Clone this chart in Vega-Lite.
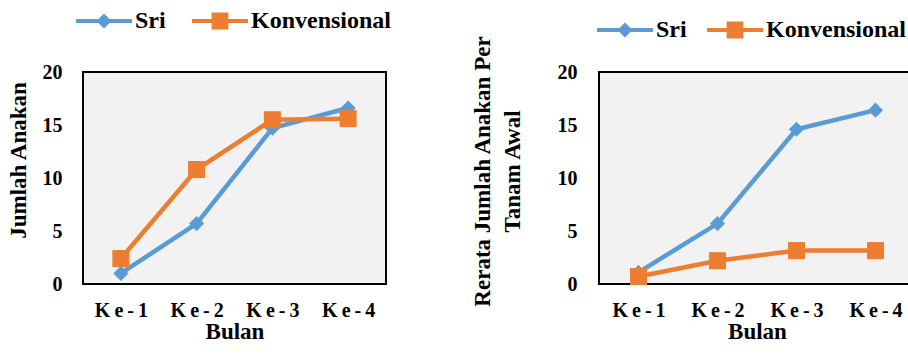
{
  "$schema": "https://vega.github.io/schema/vega-lite/v6.json",
  "padding": {"left": 6, "top": -8, "right": 0, "bottom": 0},
  "background": "white",
  "datasets": {
    "kiri": [
      {"bulan": "Ke-1", "seri": "Sri", "nilai": 1.0},
      {"bulan": "Ke-2", "seri": "Sri", "nilai": 5.7},
      {"bulan": "Ke-3", "seri": "Sri", "nilai": 14.7},
      {"bulan": "Ke-4", "seri": "Sri", "nilai": 16.6},
      {"bulan": "Ke-1", "seri": "Konvensional", "nilai": 2.4},
      {"bulan": "Ke-2", "seri": "Konvensional", "nilai": 10.8},
      {"bulan": "Ke-3", "seri": "Konvensional", "nilai": 15.5},
      {"bulan": "Ke-4", "seri": "Konvensional", "nilai": 15.6}
    ],
    "kanan": [
      {"bulan": "Ke-1", "seri": "Sri", "nilai": 1.1},
      {"bulan": "Ke-2", "seri": "Sri", "nilai": 5.7},
      {"bulan": "Ke-3", "seri": "Sri", "nilai": 14.6},
      {"bulan": "Ke-4", "seri": "Sri", "nilai": 16.4},
      {"bulan": "Ke-1", "seri": "Konvensional", "nilai": 0.7},
      {"bulan": "Ke-2", "seri": "Konvensional", "nilai": 2.2},
      {"bulan": "Ke-3", "seri": "Konvensional", "nilai": 3.15},
      {"bulan": "Ke-4", "seri": "Konvensional", "nilai": 3.15}
    ]
  },
  "spacing": 77,
  "resolve": {"scale": {"color": "independent", "x": "independent", "y": "independent"}, "legend": {"color": "independent"}},
  "hconcat": [
    {
      "width": 303,
      "height": 212,
      "data": {"name": "kiri"},
      "encoding": {
        "x": {"field": "bulan", "type": "ordinal", "sort": null, "scale": {"type": "point", "padding": 0.5},
          "axis": {"labelAngle": 0, "labelPadding": 16, "titlePadding": 0, "labelExpr": "join(split(datum.label, ''), '\u2009')"}, "title": "Bulan"},
        "y": {"field": "nilai", "type": "quantitative", "scale": {"domain": [0, 20], "nice": false},
          "axis": {"values": [0, 5, 10, 15, 20], "labelPadding": 21, "titlePadding": 12, "titleY": 88}, "title": "Jumlah Anakan"},
        "color": {"field": "seri", "type": "nominal", "sort": ["Sri", "Konvensional"],
          "scale": {"domain": ["Sri", "Konvensional"], "range": ["#5B9BD5", "#ED7D31"]},
          "legend": {"orient": "none", "legendX": -7, "legendY": -79, "direction": "horizontal", "title": null,
            "symbolSize": 3136, "symbolType": "M-1,-0.07L1,-0.07L1,0.07L-1,0.07Z",
            "labelFont": "Liberation Serif", "labelFontSize": 24, "labelFontWeight": "bold", "labelColor": "black",
            "labelOffset": 3, "columnPadding": 26, "padding": 0,
            "encode": {"symbols": {"update": {
              "shape": {"signal": "datum.value === 'Sri' ? 'M-1,-0.07L1,-0.07L1,0.07L-1,0.07Z M0,-0.27L0.27,0L0,0.27L-0.27,0Z' : 'M-1,-0.07L1,-0.07L1,0.07L-1,0.07Z M-0.3,-0.3L0.3,-0.3L0.3,0.3L-0.3,0.3Z'"},
              "fill": {"signal": "datum.value === 'Sri' ? '#5B9BD5' : '#ED7D31'"},
              "stroke": {"value": "transparent"}, "strokeWidth": {"value": 0}, "opacity": {"value": 1}, "fillOpacity": {"value": 1}}}}}
        }
      },
      "layer": [
        {"mark": {"type": "line", "strokeWidth": 4.5}},
        {"transform": [{"filter": "datum.seri === 'Sri'"}], "mark": {"type": "point", "filled": true, "opacity": 1, "shape": "diamond", "size": 230}},
        {"transform": [{"filter": "datum.seri === 'Konvensional'"}], "mark": {"type": "point", "filled": true, "opacity": 1, "shape": "square", "size": 290}}
      ]
    },
    {
      "width": 316,
      "height": 212,
      "data": {"name": "kanan"},
      "encoding": {
        "x": {"field": "bulan", "type": "ordinal", "sort": null, "scale": {"type": "point", "padding": 0.5},
          "axis": {"labelAngle": 0, "labelPadding": 16, "titlePadding": 0, "labelExpr": "join(split(datum.label, ''), '\u2009')"}, "title": "Bulan"},
        "y": {"field": "nilai", "type": "quantitative", "scale": {"domain": [0, 20], "nice": false},
          "axis": {"values": [0, 5, 10, 15, 20], "labelPadding": 22, "titlePadding": 33, "titleLineHeight": 30, "titleY": 99}, "title": ["Rerata Jumlah Anakan Per", "Tanam Awal"]},
        "color": {"field": "seri", "type": "nominal", "sort": ["Sri", "Konvensional"],
          "scale": {"domain": ["Sri", "Konvensional"], "range": ["#5B9BD5", "#ED7D31"]},
          "legend": {"orient": "none", "legendX": -2, "legendY": -70, "direction": "horizontal", "title": null,
            "symbolSize": 3136, "symbolType": "M-1,-0.07L1,-0.07L1,0.07L-1,0.07Z",
            "labelFont": "Liberation Serif", "labelFontSize": 24, "labelFontWeight": "bold", "labelColor": "black",
            "labelOffset": 3, "columnPadding": 20, "padding": 0,
            "encode": {"symbols": {"update": {
              "shape": {"signal": "datum.value === 'Sri' ? 'M-1,-0.07L1,-0.07L1,0.07L-1,0.07Z M0,-0.27L0.27,0L0,0.27L-0.27,0Z' : 'M-1,-0.07L1,-0.07L1,0.07L-1,0.07Z M-0.3,-0.3L0.3,-0.3L0.3,0.3L-0.3,0.3Z'"},
              "fill": {"signal": "datum.value === 'Sri' ? '#5B9BD5' : '#ED7D31'"},
              "stroke": {"value": "transparent"}, "strokeWidth": {"value": 0}, "opacity": {"value": 1}, "fillOpacity": {"value": 1}}}}}
        }
      },
      "layer": [
        {"mark": {"type": "line", "strokeWidth": 4.5}},
        {"transform": [{"filter": "datum.seri === 'Sri'"}], "mark": {"type": "point", "filled": true, "opacity": 1, "shape": "diamond", "size": 230}},
        {"transform": [{"filter": "datum.seri === 'Konvensional'"}], "mark": {"type": "point", "filled": true, "opacity": 1, "shape": "square", "size": 290}}
      ]
    }
  ],
  "config": {
    "font": "Liberation Serif",
    "view": {"fill": "#F2F2F2", "stroke": "black", "strokeWidth": 2},
    "axis": {"labelFont": "Liberation Serif", "labelFontWeight": "bold", "labelFontSize": 20, "labelColor": "black",
      "titleFont": "Liberation Serif", "titleFontWeight": "bold", "titleFontSize": 23, "titleColor": "black",
      "ticks": false, "domain": false, "grid": false},
    "legend": {"labelFont": "Liberation Serif"}
  }
}
